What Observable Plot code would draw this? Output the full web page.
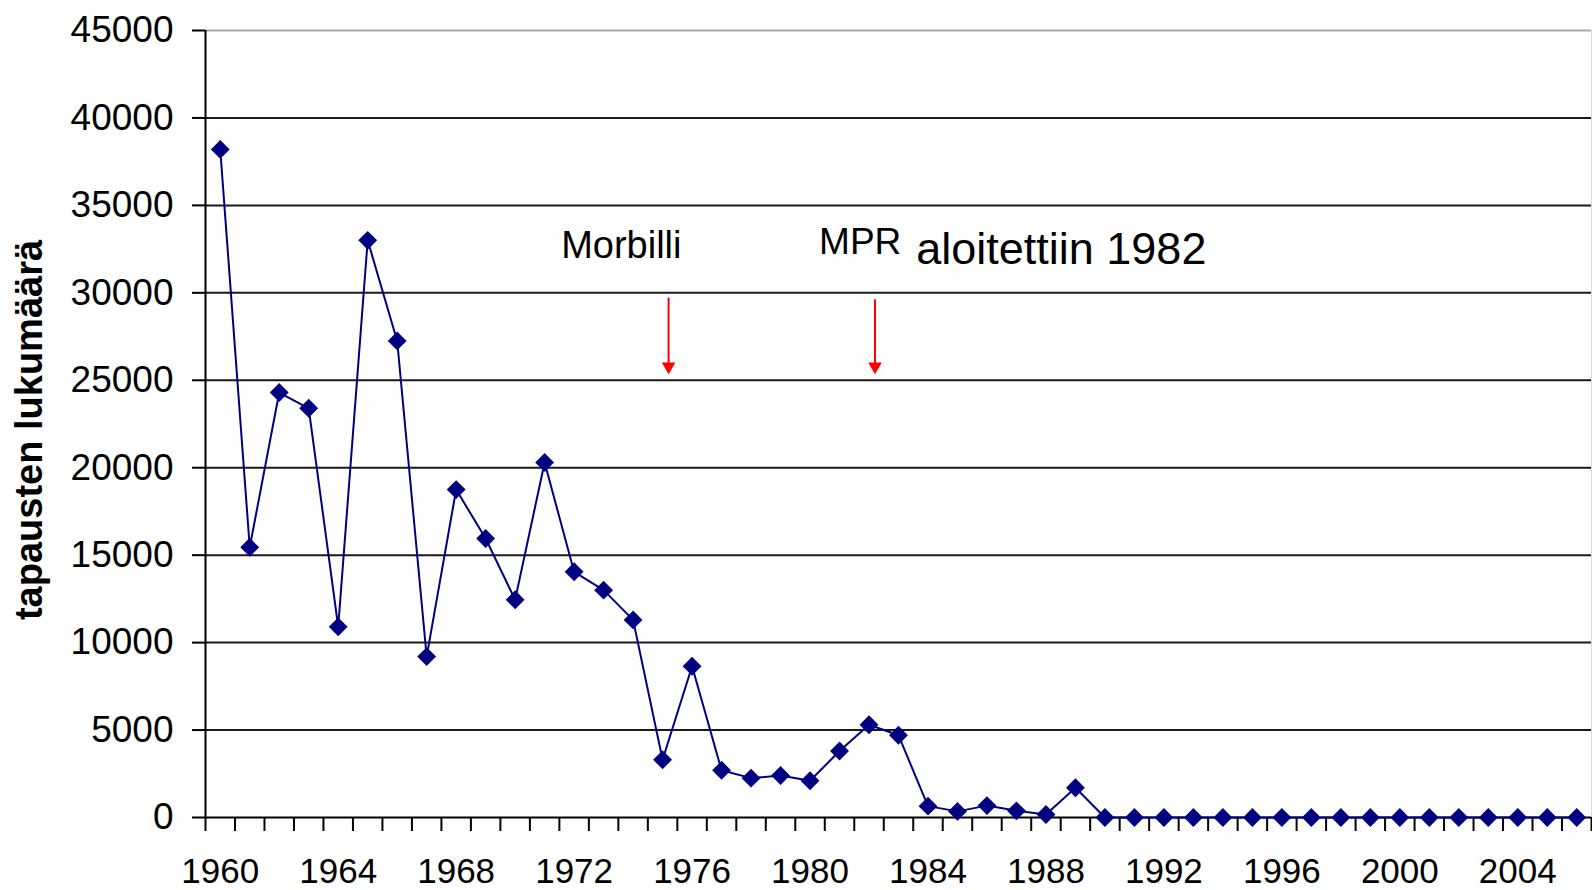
<!DOCTYPE html>
<html><head><meta charset="utf-8">
<script src="https://cdn.jsdelivr.net/npm/d3@7"></script>
<script src="https://cdn.jsdelivr.net/npm/@observablehq/plot@0.6"></script>
<style>html,body{margin:0;padding:0;background:#fff} svg{display:block}</style>
</head><body><div id="chart"></div>
<script>
const years = [1960,1961,1962,1963,1964,1965,1966,1967,1968,1969,
  1970,1971,1972,1973,1974,1975,1976,1977,1978,1979,
  1980,1981,1982,1983,1984,1985,1986,1987,1988,1989,
  1990,1991,1992,1993,1994,1995,1996,1997,1998,1999,
  2000,2001,2002,2003,2004,2005,2006];
const cases = [38200,15450,24300,23400,10900,33000,27250,9200,18750,15950,
  12450,20300,14050,13000,11300,3300,8650,2700,2250,2400,
  2100,3800,5300,4700,650,350,680,380,170,1700,
  0,0,0,0,0,0,0,0,0,0,
  0,0,0,0,0,0,0];
const yTicks = [0,5000,10000,15000,20000,25000,30000,35000,40000,45000];
const xLabelYears = [1960,1964,1968,1972,1976,1980,1984,1988,1992,1996,2000,2004];
const yLabel = "tapausten lukumäärä";
const arrowYears = [1975, 1982];
const arrowFrom = [29700, 29600];
const arrowTo = [25350, 25350];
const noteMorbilli = {x: 1973.6, y: 32700, text: "Morbilli"};
const noteMPR = {x: 1981.7, y: 32880, text: "MPR"};
const noteStart = {x: 1983.6, y: 32450, text: "aloitettiin 1982"};

const data = years.map((yr, i) => ({year: yr, cases: cases[i]}));
const boundaries = years.map(y => y - 0.5).concat([years[years.length - 1] + 0.5]);
const arrows = arrowYears.map((yr, i) => ({year: yr, from: arrowFrom[i], to: arrowTo[i]}));

const chart = Plot.plot({
  width: 1592, height: 890,
  marginLeft: 205, marginRight: 1, marginTop: 30, marginBottom: 73,
  style: {fontFamily: "'Liberation Sans', Arial, sans-serif", background: "#fff", color: "#000"},
  x: {domain: [boundaries[0], boundaries[boundaries.length - 1]]},
  y: {domain: [0, 45000]},
  marks: [
    Plot.ruleY(yTicks.filter(v => v > 0 && v < 45000), {stroke: "#1a1a1a", strokeWidth: 2}),
    Plot.ruleY([45000], {stroke: "#a8a8a8", strokeWidth: 2}),
    Plot.ruleX([boundaries[boundaries.length - 1]], {stroke: "#dcdcdc", strokeWidth: 1}),
    Plot.axisY({ticks: yTicks, tickSize: 13, tickPadding: 19, fontSize: 37, strokeWidth: 2, label: null, tickFormat: d => String(d)}),
    Plot.axisX({ticks: boundaries, tickSize: 14, tickFormat: () => "", strokeWidth: 2, label: null}),
    Plot.axisX({ticks: xLabelYears, tickSize: 0, tickPadding: 41, fontSize: 35, tickFormat: d => String(d), label: null}),
    Plot.ruleX([boundaries[0]], {stroke: "#000", strokeWidth: 2}),
    Plot.ruleY([0], {stroke: "#000", strokeWidth: 2}),
    Plot.line(data, {x: "year", y: "cases", stroke: "#000080", strokeWidth: 2}),
    Plot.dot(data, {x: "year", y: "cases", symbol: "diamond2", r: 8.5, fill: "#000080", stroke: "none"}),
    Plot.ruleX(arrows, {x: "year", y1: "from", y2: "to", dx: 6, stroke: "#ff0000", strokeWidth: 2, insetBottom: 9}),
    Plot.dot(arrows, {x: "year", y: "to", dx: 6, symbol: "triangle2", rotate: 180, r: 6.5, dy: -7.8, fill: "#ff0000", stroke: "none"}),
    Plot.text([noteMorbilli], {x: "x", y: "y", text: "text", fontSize: 38, textAnchor: "middle", fill: "#000"}),
    Plot.text([noteMPR], {x: "x", y: "y", text: "text", fontSize: 37, textAnchor: "middle", fill: "#000"}),
    Plot.text([noteStart], {x: "x", y: "y", text: "text", fontSize: 45, textAnchor: "start", fill: "#000"}),
    Plot.text([yLabel], {frameAnchor: "left", dx: -176, dy: 6, rotate: -90, fontSize: 38, fontWeight: "bold", textAnchor: "middle", fill: "#000"})
  ]
});
document.getElementById("chart").appendChild(chart);
</script>
</body></html>
